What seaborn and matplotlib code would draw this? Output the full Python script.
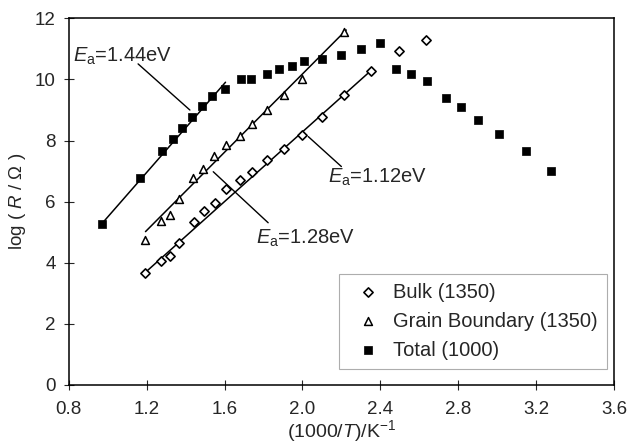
import numpy as np
import pandas as pd
import matplotlib
matplotlib.use("Agg")
import matplotlib.pyplot as plt
import seaborn as sns

# data
bulk_x = [1.194, 1.276, 1.319, 1.365, 1.444, 1.494, 1.55, 1.61, 1.68, 1.739,
          1.819, 1.906, 1.996, 2.10, 2.215, 2.35, 2.497, 2.634]
bulk_y = [3.66, 4.07, 4.22, 4.64, 5.35, 5.69, 5.97, 6.42, 6.71, 6.98,
          7.36, 7.73, 8.18, 8.78, 9.49, 10.28, 10.93, 11.29]

gb_x = [1.194, 1.276, 1.319, 1.365, 1.439, 1.487, 1.545, 1.605, 1.679, 1.742,
        1.819, 1.905, 1.996, 2.215]
gb_y = [4.75, 5.36, 5.56, 6.09, 6.77, 7.06, 7.50, 7.86, 8.16, 8.53,
        9.0, 9.49, 10.03, 11.57]

tot_x = [0.97, 1.165, 1.28, 1.336, 1.384, 1.434, 1.485, 1.538, 1.60, 1.685,
         1.735, 1.816, 1.88, 1.947, 2.006, 2.10, 2.196, 2.30, 2.40, 2.48,
         2.557, 2.64, 2.736, 2.814, 2.902, 3.01, 3.15, 3.277]
tot_y = [5.28, 6.78, 7.67, 8.05, 8.40, 8.78, 9.14, 9.45, 9.70, 10.02,
         10.02, 10.18, 10.33, 10.44, 10.61, 10.68, 10.79, 11.0, 11.18, 10.33,
         10.18, 9.96, 9.38, 9.09, 8.69, 8.22, 7.66, 7.01]

# Arrhenius fit lines (end points)
fit_tot_x = [0.97, 1.605]
fit_tot_y = [5.28, 9.91]
fit_gb_x = [1.194, 2.225]
fit_gb_y = [5.02, 11.62]
fit_bulk_x = [1.182, 2.35]
fit_bulk_y = [3.62, 10.28]

labels = ["Bulk (1350)", "Grain Boundary (1350)", "Total (1000)"]
ea_text = ["1.44", "1.28", "1.12"]

sns.set_style("white")
plt.rcParams["font.family"] = ["Liberation Sans", "DejaVu Sans"]
plt.rcParams["mathtext.fontset"] = "custom"
plt.rcParams["mathtext.rm"] = "Liberation Sans"
plt.rcParams["mathtext.it"] = "Liberation Sans:italic"
plt.rcParams["font.size"] = 13

fig = plt.figure(figsize=(6.31, 4.43), dpi=100)
ax = fig.add_axes([0.109, 0.131, 0.864, 0.8275])

for fx, fy in [(fit_tot_x, fit_tot_y), (fit_gb_x, fit_gb_y), (fit_bulk_x, fit_bulk_y)]:
    sns.lineplot(x=fx, y=fy, ax=ax, color="black", lw=1.1, legend=False)

sns.scatterplot(x=bulk_x, y=bulk_y, ax=ax, marker="D", s=22, facecolor="white",
                edgecolor="black", linewidth=1.2, label=labels[0], zorder=3)
sns.scatterplot(x=gb_x, y=gb_y, ax=ax, marker="^", s=32, facecolor="white",
                edgecolor="black", linewidth=1.1, label=labels[1], zorder=3)
sns.scatterplot(x=tot_x, y=tot_y, ax=ax, marker="s", s=40, color="black",
                edgecolor="black", linewidth=0.5, label=labels[2], zorder=3)

# Ea annotations with leader lines
ea_fs = 14.5
ax.plot([1.156, 1.422], [10.51, 9.0], color="black", lw=1)
ax.text(0.82, 10.75, "$E_{\\mathrm{a}}$=" + ea_text[0] + "eV", va="center", ha="left", fontsize=ea_fs)
ax.plot([1.542, 1.824], [6.98, 5.31], color="black", lw=1)
ax.text(1.764, 4.81, "$E_{\\mathrm{a}}$=" + ea_text[1] + "eV", va="center", ha="left", fontsize=ea_fs)
ax.plot([2.03, 2.20], [8.13, 7.15], color="black", lw=1)
ax.text(2.131, 6.78, "$E_{\\mathrm{a}}$=" + ea_text[2] + "eV", va="center", ha="left", fontsize=ea_fs)

ax.set_xlim(0.8, 3.6)
ax.set_ylim(0, 12)
ax.set_xticks(np.arange(0.8, 3.61, 0.4))
ax.set_xticklabels(["0.8", "1.2", "1.6", "2.0", "2.4", "2.8", "3.2", "3.6"])
ax.set_yticks(range(0, 13, 2))
ax.tick_params(direction="inout", length=7, width=0.8, labelsize=13.5, pad=6,
               left=True, bottom=True)
ax.tick_params(axis="x", pad=8)
for sp in ax.spines.values():
    sp.set_color("black")
    sp.set_linewidth(1.1)

ax.set_xlabel("(1000/$\\mathit{T}$)/K$^{-1}$", fontsize=14, labelpad=0)
ax.set_ylabel("log ( $\\mathit{R}$ / \u03a9 )", fontsize=13.5, labelpad=5)

leg = ax.legend(loc="lower right", bbox_to_anchor=(0.987, 0.044), borderaxespad=0,
                frameon=True, fancybox=False, fontsize=14.5, handletextpad=0.25,
                labelspacing=0.5, borderpad=0.45, handlelength=2.0)
leg.get_frame().set_edgecolor("#999999")
leg.get_frame().set_linewidth(0.8)

fig.savefig("out.png", dpi=100)
